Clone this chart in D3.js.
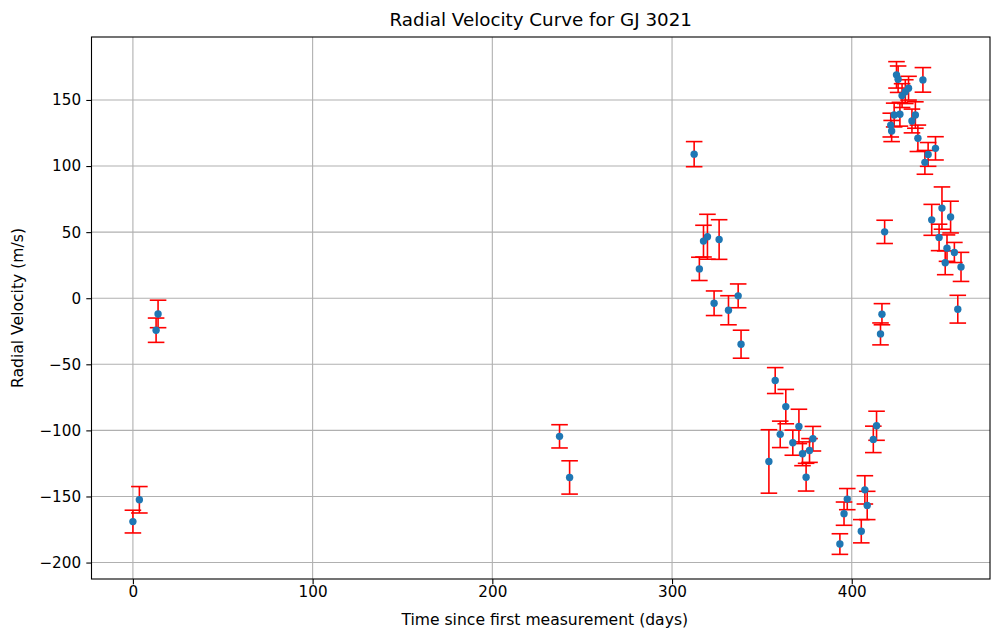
<!DOCTYPE html>
<html>
<head>
    <title>Radial Velocity Curve for GJ 3021</title>
    <script src="https://cdn.jsdelivr.net/npm/d3@7"></script>
    <style>
        body { margin: 0; background: #fff; }
        text { font-family: "DejaVu Sans", sans-serif; fill: #000; }
    </style>
</head>
<body>
<div id="chart"></div>
<script>
// time since first measurement (days)
var times = [0, 3.6, 12.9, 14, 237.4, 243, 312.3, 315.2, 317.5, 319.7,
  323.4, 326.2, 331.4, 336.8, 338.4, 353.9, 357.4, 360.2, 363.3, 367.2,
  370.6, 372.6, 374.6, 376.5, 378.4, 393.4, 395.7, 397.5, 405.3, 407.3,
  408.6, 412, 413.8, 416, 416.8, 418.3, 421.7, 422.2, 423.6, 424.9,
  425.8, 426.8, 428, 429.8, 431.6, 433.5, 435.4, 436.8, 439.6, 440.7,
  442.5, 444.5, 446.6, 448.6, 450.2, 452, 453, 455, 457.1, 459, 460.8];
// radial velocity (m/s)
var velocities = [-169, -152.5, -24.2, -11.9, -104.5, -135.6, 109, 22.2, 43.2, 46.5,
  -3.8, 44.4, -9.1, 1.8, -34.8, -123.5, -62.3, -103, -82, -109.3,
  -97, -117.7, -135.4, -115.2, -106.3, -186, -163, -152, -176.3, -145,
  -156.8, -106.8, -96.5, -27, -12.1, 50.2, 131, 126.5, 138.6, 169,
  165.7, 139.2, 153.3, 156.3, 158.9, 134.1, 138.6, 121, 165.2, 102.8,
  108.8, 59.3, 113.4, 46, 68.2, 26.8, 37.9, 61.4, 34.6, -8.3, 23.7];
// uncertainty (m/s)
var errors = [8.6, 10, 9.2, 10.4, 8.8, 12.6, 9.5, 8.8, 12, 17,
  9.3, 15, 11, 9, 10.6, 24, 9.8, 10, 13, 9.5,
  13, 9, 10.5, 9, 9.3, 7.8, 8.8, 8, 8.8, 10.7,
  10.7, 10, 11, 8.3, 8, 8.8, 9, 8, 9, 10,
  10, 9, 9, 9, 9, 9, 10, 10, 9.3, 9,
  9, 11.7, 8.8, 10, 16, 9, 10, 12, 7.6, 10.5, 11];
var xTicks = [0, 100, 200, 300, 400];
var yTicks = [-200, -150, -100, -50, 0, 50, 100, 150];

var W = 991, H = 629;
var plotL = 91.5, plotR = 990, plotT = 37, plotB = 579;

var points = times.map(function(t, i){
    return {t: t, v: velocities[i], e: errors[i]};
});

// matplotlib style 5% margins
var tMin = d3.min(times), tMax = d3.max(times);
var vMin = d3.min(points, function(d){ return d.v - d.e; });
var vMax = d3.max(points, function(d){ return d.v + d.e; });
var tPad = (tMax - tMin) * 0.05, vPad = (vMax - vMin) * 0.05;

var x = d3.scaleLinear().domain([tMin - tPad, tMax + tPad * 0.7]).range([plotL, plotR]);
var y = d3.scaleLinear().domain([vMin - vPad, vMax + vPad]).range([plotB, plotT]);

var svg = d3.select("#chart").append("svg")
    .attr("width", W)
    .attr("height", H);

// grid
svg.append("g").selectAll("line").data(xTicks).enter().append("line")
    .attr("x1", function(d){ return x(d); })
    .attr("x2", function(d){ return x(d); })
    .attr("y1", plotT).attr("y2", plotB)
    .style("stroke", "#b0b0b0").style("stroke-width", 1.1);
svg.append("g").selectAll("line").data(yTicks).enter().append("line")
    .attr("y1", function(d){ return y(d); })
    .attr("y2", function(d){ return y(d); })
    .attr("x1", plotL).attr("x2", plotR)
    .style("stroke", "#b0b0b0").style("stroke-width", 1.1);

// axes
var fmt = function(d){ return d < 0 ? "\u2212" + Math.abs(d) : "" + d; };
var xAxis = svg.append("g")
    .attr("transform", "translate(0," + plotB + ")")
    .call(d3.axisBottom(x).tickValues(xTicks).tickFormat(fmt).tickSize(5.2).tickPadding(5.2).tickSizeOuter(0));
var yAxis = svg.append("g")
    .attr("transform", "translate(" + plotL + ",0)")
    .call(d3.axisLeft(y).tickValues(yTicks).tickFormat(fmt).tickSize(5.2).tickPadding(5.2).tickSizeOuter(0));
[xAxis, yAxis].forEach(function(a){
    a.select(".domain").remove();
    a.selectAll("line").style("stroke", "#000").style("stroke-width", 1.1);
    a.selectAll("text").style("font-size", "15.2px").style("font-family", "DejaVu Sans").attr("fill", "#000");
});
xAxis.selectAll("text").attr("dy", null).attr("y", 17.5);

// frame
svg.append("rect")
    .attr("x", plotL).attr("y", plotT)
    .attr("width", plotR - plotL).attr("height", plotB - plotT)
    .style("fill", "none").style("stroke", "#000").style("stroke-width", 1.1);

// error bars
var eb = svg.append("g").style("stroke", "red").style("stroke-width", 1.6);
eb.selectAll(".bar").data(points).enter().append("line")
    .attr("x1", function(d){ return x(d.t); })
    .attr("x2", function(d){ return x(d.t); })
    .attr("y1", function(d){ return y(d.v - d.e); })
    .attr("y2", function(d){ return y(d.v + d.e); });
eb.selectAll(".capLo").data(points).enter().append("line")
    .attr("x1", function(d){ return x(d.t) - 8.3; })
    .attr("x2", function(d){ return x(d.t) + 8.3; })
    .attr("y1", function(d){ return y(d.v - d.e); })
    .attr("y2", function(d){ return y(d.v - d.e); });
eb.selectAll(".capHi").data(points).enter().append("line")
    .attr("x1", function(d){ return x(d.t) - 8.3; })
    .attr("x2", function(d){ return x(d.t) + 8.3; })
    .attr("y1", function(d){ return y(d.v + d.e); })
    .attr("y2", function(d){ return y(d.v + d.e); });

// markers
svg.append("g").selectAll("circle").data(points).enter().append("circle")
    .attr("cx", function(d){ return x(d.t); })
    .attr("cy", function(d){ return y(d.v); })
    .attr("r", 3.7)
    .style("fill", "#1f77b4");

// labels
svg.append("text")
    .attr("x", (plotL + plotR) / 2).attr("y", 26)
    .attr("text-anchor", "middle")
    .style("font-size", "18.3px")
    .text("Radial Velocity Curve for GJ 3021");
svg.append("text")
    .attr("x", (plotL + plotR) / 2 + 4).attr("y", 625)
    .attr("text-anchor", "middle")
    .style("font-size", "15.6px")
    .text("Time since first measurement (days)");
svg.append("text")
    .attr("transform", "translate(23," + (plotT + plotB) / 2 + ") rotate(-90)")
    .attr("text-anchor", "middle")
    .style("font-size", "15.6px")
    .text("Radial Velocity (m/s)");
</script>
</body>
</html>
